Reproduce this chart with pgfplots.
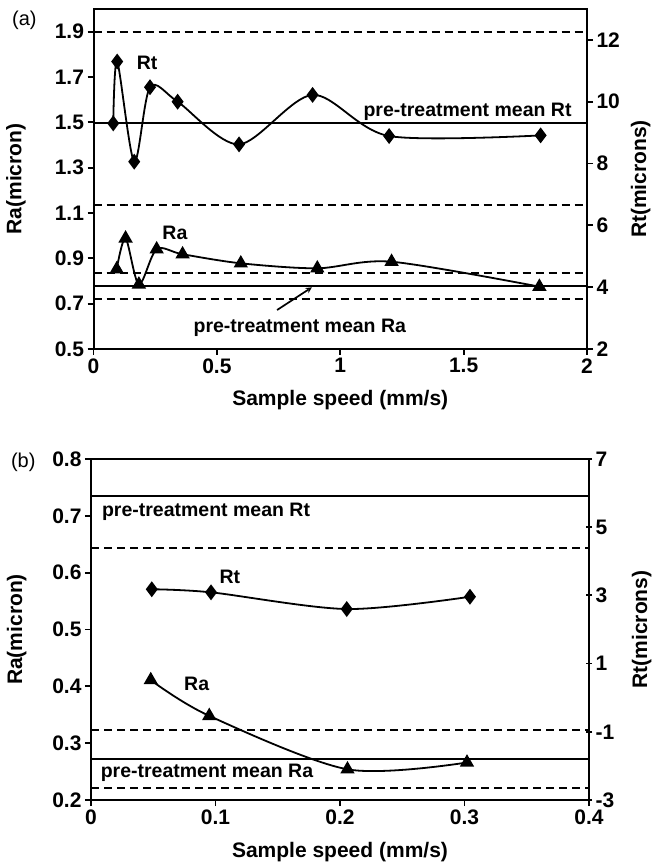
\documentclass[border=0pt]{standalone}
\usepackage{fontspec}
\setmainfont{Liberation Sans}
\usepackage{pgfplots}
\pgfplotsset{compat=1.18}
\tikzset{ann/.style={font=\fontsize{19.5}{21}\selectfont\bfseries}}
\begin{document}
\begin{tikzpicture}
\useasboundingbox (0pt,0pt) rectangle (651pt,864pt);
\pgfplotsset{
  every axis/.append style={
    scale only axis,
    anchor=south west,
    /pgf/number format/assume math mode=true,
    tick label style={font=\fontsize{21}{23}\selectfont\bfseries},
    label style={font=\fontsize{21}{23}\selectfont\bfseries},
    axis line style={line width=2pt},
    tick align=outside,
    major tick length=6pt,
    every tick/.style={line width=1.8pt, black},
    clip=false,
  },
  refd/.style={black, line width=2pt, dash pattern=on 8pt off 5pt},
  refs/.style={black, line width=2pt},
  dia/.style={black, line width=1.8pt, smooth, tension=0.5, mark=diamond*, mark size=6.5pt, mark options={solid}},
  tri/.style={black, line width=1.8pt, smooth, tension=0.5, mark=triangle*, mark size=6.5pt, mark options={solid}},
}
% ---------------- Panel (a) ----------------
\begin{axis}[at={(93.5pt,515pt)}, width=493.5pt, height=340pt,
  xmin=0, xmax=2, ymin=0.5, ymax=2.0,
  xtick={0,0.5,1,1.5,2}, ytick={0.5,0.7,0.9,1.1,1.3,1.5,1.7,1.9},
  xtick pos=bottom, ytick pos=left,
  yticklabel style={/pgf/number format/.cd, fixed, fixed zerofill, precision=1},
  xlabel={Sample speed (mm/s)}, ylabel={Ra(micron)},
  xlabel style={at={(axis description cs:0.5,-0.15)}, anchor=center},
  ylabel style={at={(axis description cs:-0.157,0.5)}, anchor=center},
]
\addplot[refd] coordinates {(0,1.9) (2,1.9)};
\addplot[refs] coordinates {(0,1.496) (2,1.496)};
\addplot[refd] coordinates {(0,1.135) (2,1.135)};
\addplot[refd] coordinates {(0,0.834) (2,0.834)};
\addplot[refs] coordinates {(0,0.779) (2,0.779)};
\addplot[refd] coordinates {(0,0.721) (2,0.721)};
\addplot[tri] coordinates {
(0.094,0.852) (0.130,0.988) (0.184,0.785) (0.256,0.940) (0.361,0.918)
(0.597,0.878) (0.907,0.856) (1.208,0.885) (1.807,0.775)};
\node[ann] at (axis cs:0.217,1.762) {Rt};
\node[ann] at (axis cs:0.330,1.012) {Ra};
\node[ann] at (axis cs:1.516,1.546) {pre-treatment mean Rt};
\node[ann] at (axis cs:0.836,0.592) {pre-treatment mean Ra};
\draw[-stealth, line width=1.7pt] (axis cs:0.744,0.672) -- (axis cs:0.885,0.772);
\node[font=\fontsize{20}{22}\selectfont] at (axis description cs:-0.14,0.968) {(a)};
\end{axis}
\begin{axis}[at={(93.5pt,515pt)}, width=493.5pt, height=340pt,
  xmin=0, xmax=2, ymin=2, ymax=13,
  axis x line=none, axis y line*=right,
  ytick={2,4,6,8,10,12},
  ylabel={Rt(microns)},
  ylabel style={at={(axis description cs:1.109,0.5)}, anchor=center},
]
\addplot[dia] coordinates {
(0.080,9.30) (0.096,11.30) (0.165,8.06) (0.229,10.47) (0.341,10.0)
(0.590,8.62) (0.888,10.22) (1.198,8.89) (1.812,8.91)};
\end{axis}
% ---------------- Panel (b) ----------------
\begin{axis}[at={(91pt,64pt)}, width=498pt, height=341pt,
  xmin=0, xmax=0.4, ymin=0.2, ymax=0.8,
  xtick={0,0.1,0.2,0.3,0.4}, ytick={0.2,0.3,0.4,0.5,0.6,0.7,0.8},
  xtick pos=bottom, ytick pos=left,
  yticklabel style={/pgf/number format/.cd, fixed, fixed zerofill, precision=1},
  xticklabel style={/pgf/number format/.cd, fixed, precision=1},
  xlabel={Sample speed (mm/s)}, ylabel={Ra(micron)},
  xlabel style={at={(axis description cs:0.5,-0.152)}, anchor=center},
  ylabel style={at={(axis description cs:-0.149,0.5)}, anchor=center},
]
\addplot[refs] coordinates {(0,0.735) (0.4,0.735)};
\addplot[refd] coordinates {(0,0.643) (0.4,0.643)};
\addplot[refd] coordinates {(0,0.324) (0.4,0.324)};
\addplot[refs] coordinates {(0,0.273) (0.4,0.273)};
\addplot[refd] coordinates {(0,0.2205) (0.4,0.2205)};
\addplot[tri] coordinates {(0.048,0.411) (0.095,0.348) (0.206,0.254) (0.302,0.266)};
\node[ann, anchor=west] at (axis cs:0.006,0.707) {pre-treatment mean Rt};
\node[ann] at (axis cs:0.1116,0.593) {Rt};
\node[ann] at (axis cs:0.0849,0.405) {Ra};
\node[ann, anchor=west] at (axis cs:0.005,0.247) {pre-treatment mean Ra};
\node[font=\fontsize{20}{22}\selectfont] at (axis description cs:-0.136,0.991) {(b)};
\end{axis}
\begin{axis}[at={(91pt,64pt)}, width=498pt, height=341pt,
  xmin=0, xmax=0.4, ymin=-3, ymax=7,
  axis x line=none, axis y line*=right,
  ytick={-3,-1,1,3,5,7}, tick align=center,
  ylabel={Rt(microns)},
  ylabel style={at={(axis description cs:1.106,0.5)}, anchor=center},
]
\addplot[dia] coordinates {(0.0488,3.18) (0.0964,3.09) (0.2054,2.60) (0.3044,2.96)};
\end{axis}
\end{tikzpicture}
\end{document}
